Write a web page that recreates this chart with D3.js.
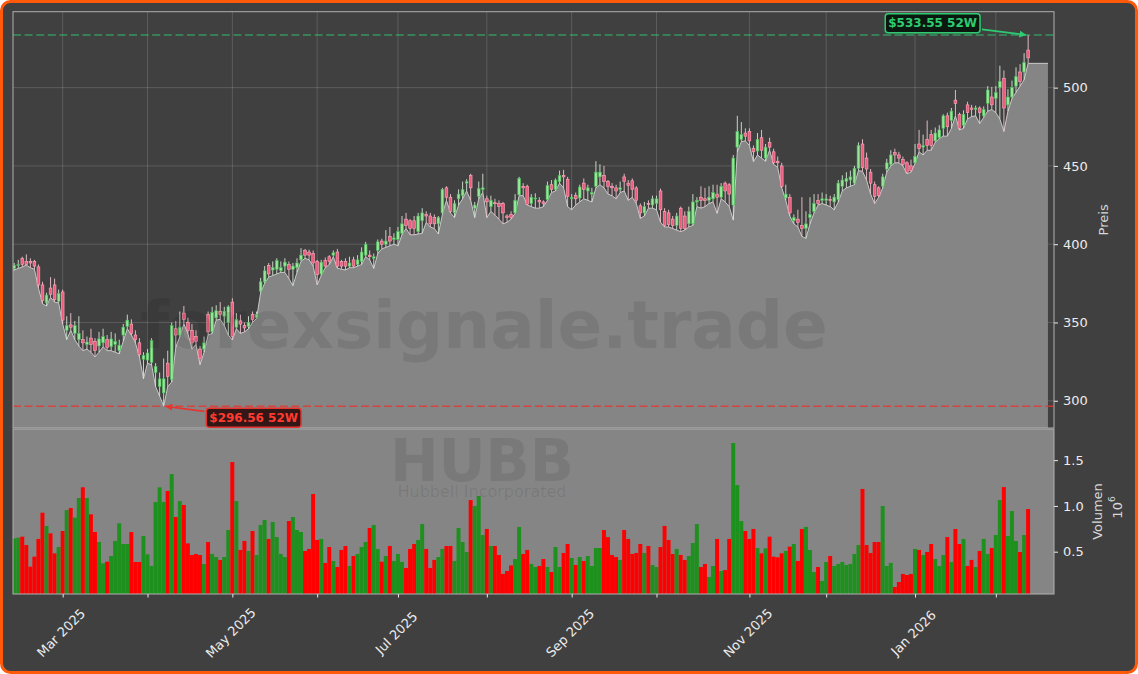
<!DOCTYPE html>
<html><head><meta charset="utf-8">
<script src="https://cdn.jsdelivr.net/npm/d3@7"></script>
<style>body{margin:0;background:#fff}svg{display:block}</style>
</head><body><svg id="c" width="1138" height="674"></svg>
<script>
// ---------------- DATA ----------------
const ticker = "HUBB";
const companyName = "Hubbell Incorporated";
const watermarkText = "forexsignale.trade";
const startDate = "2025-02-12";
const endDate = "2026-02-12";
const holidays = ["2025-02-17","2025-04-18","2025-05-26","2025-06-19","2025-07-04","2025-09-01","2025-11-27","2025-12-25","2026-01-01","2026-01-19"];
const monthNames = ["Jan","Feb","Mar","Apr","May","Jun","Jul","Aug","Sep","Oct","Nov","Dec"];

const openP = [384.5,386.5,391,389,389,389,385.5,374,362.5,372,374,363.5,369.5,345,348.5,343,339,339,336,340,
338,335,337,339,334.5,336,332,342,347.5,349,342,337,326.5,326,324.5,318,309,305,324,313.5,
346,342,356,350,345,341,333,333,355,344,353,357,354,350,363,347,351,348,347.5,355,
353,370,376,386.5,383.5,384,383,386,387,384,385,390,396,395,394,389,381,389.5,392,393,
395,389,389,386,390,387,389,393,393,391,396,402,400,405,403,403,407,416,415,415,
408,415,419,418,417,413,420,436,430,420,429,431,439,444,423,430.5,435,429,424,426.5,
426,426,418,419,420,431.5,437,437,426,429,428,427,428.5,438,435,440,444,441.5,429,431,
429.5,439,434,432,437,443,444,440,437,436,435,443,439,440.5,436,424.5,420,426,425,426,
434,421,420,416,412,423,418,413,413,427,430,429,428,429,432,430,439,438,425,462,
467,471,472,461,459.5,468,455,465,459,453,450,429.5,430,415,416,412,410,417,421,428,
428,428,428.5,427,428.5,437,440,441,439,448.5,464,455,446,438,436,437,448,451,458.5,457,
454,452,450,452,464,462,467,470,466,468,474,482,479,492,483,476,489,487,486,487,
482,490,494,493,500,506,489,494,501,510,510,524];

const highP = [388,390,392,393.5,391,390,387,376,369,379,378,371,371,354,356,351,354,345,341,346,
340,344,346,342,344,343,339,349,355,352,345,340,331,333,340,324,318,327,332,350,
351,357,360.5,353,349,345,335,341,357,360,361,363,360,361,365.5,356,355,350,354,357,
357,378.5,386,388,389,391,389,391,389,388,391,397.5,397,396.5,396,390,390,391.5,393,396,
397,390,391,392,392,393,398,401.5,396,394,403,403.5,409,411,407,411,418,420,416,418,
420,423,421,420,419,418,436,437,432,428,435,440,441.5,445,427,440,445,431,431,429,
428,427,419,421,432,443,439,438,432,432.5,430,428,440,441,442,447,447.5,443,432,433,
438,442,438,436,453,451,450,441,439,438,440,445,441,442,437,426,427,428,431,431,
435.5,423,422,418,420,424,421,424,432,430,437,436,437,438,438,439,440,439,457,482,
478,474,474,463,471,473,464,468,461,456,452,438,432,419,422,430,421,430,432,432,
433,432,431,432,441,444,446,447,450,465,467,458.5,448,440,437,445,454.5,460,461,459,
456,453,454,464,473,470,479,473,474.5,476,483,484,487,498.5,484,485.5,491,489,488.5,488,
488,501,500.5,501,514,511,499,504.5,513,515,522,533.55];

const lowP = [383.5,384.5,385.5,386.7,385,384,372,362,360.5,366,363,362.5,349,339,345,339,335,332,333,331,
328,331,334.5,332,332,331,330,338,346,342,337,328,314,324,323,309,303,296.56,309,312,
334,341,349,343,333,336,323,331,342,343,351.5,352,348,342,338.8,346,343,344,346,350,
352.6,369,375,379,380,381,382,382,378,373.5,382,389,391,390,386,374,380,385,387,392,
384.6,384,383.5,385,385,386,387,392,390,384.5,394,397,398,399,400,399,406,410,406,406,
406.5,407,414,411,410,406.5,419,428,420,417,425,429,434,428,417,429,433,417,421,418.6,
416,413,414,416,419.7,431,431,425,424,423,423,424,428,433,434,439,436,424,422,425,
427,429,428,427,436,438,436,432,431,429,433,434,428,430,426,416.5,418,423,423,422,
414,411,411,410,409,408,409,411,412,424,423,424,426,427,419.7,429,427,424,415.4,459,
465.5,466,463,452.7,457,455,453,460,451,449,436,428,418,413,411,405,403.7,413,420,425,
426,425,424,422,427,434,436,437,438,447,446.5,441,432,426,430,436,446,450,452,452,
450,445,446,451.5,459,457,460,460,465,467.5,469,469,474,482,472.9,474,480,481.5,482,477,
481,485,486,484,480,472,485,493,497,501,505,515.5];

const closeP = [386.5,387,387,387,388,386,374,364,367.5,368,364.5,368.5,351.5,348,347,348,343,337,337.5,336,
332,339.5,341,334,339.5,338,335.5,347,351.5,343,339,329.5,329,330.5,338.5,322,314,314,315.5,348,
342,347,352,345,337,338,327,337,344,356.5,357.5,355,357,360,341,352,349,346.5,350,352,
355,376,383,381,385,389.5,385,388.5,384,386,388,393,393,393,388,380.5,388.5,386,389,394.5,
386,386,386,388,386,390,395,400,392,392,401.5,400,402,402,404,408,413,412,410,410,
418,420,418,413,413,417,435,430,421,426,432,435,440,436,425,435.5,436,427,428,426,
424,420,417,417,428,442,436,425.5,430,429.5,427,426,437.5,435,441,444,443,430.5,430,429,
436.5,435,436,433,446,446,440,437,436,434,436,440,437.5,435,428,420,424,425.5,429,429,
422,412,412.5,412,418,410,410,421,427,428,428,428,430,433,430,437,434,432,455,472,
470,469,466,459,467,460,462,462,452,452,437,432,420,417,414,410,413,419,426,426,
429,429,428,430,439,441,442,443,448.5,463,449,448,439,430.5,431,443,452,457,457,455,
451,446,447,456,461,463,463,463,471,473,482,475,485,490,474,483,484,486,487,484,
486,498.5,489,497,504,487,494,500,507,504,516,519];

// volume in millions of shares
const volumeM = [0.646,0.653,0.664,0.573,0.337,0.446,0.639,0.926,0.781,0.700,0.482,0.551,0.726,0.955,0.977,0.872,1.086,1.203,1.086,0.908,
0.715,0.606,0.373,0.391,0.453,0.617,0.810,0.584,0.584,0.715,0.388,0.388,0.671,0.471,0.344,1.043,1.203,1.043,1.163,1.348,
0.879,1.053,1.010,0.591,0.464,0.475,0.464,0.366,0.606,0.475,0.442,0.410,0.442,0.737,1.479,1.053,0.519,0.617,0.508,0.726,
0.464,0.792,0.846,0.639,0.824,0.660,0.475,0.442,0.835,0.879,0.737,0.715,0.508,0.530,1.130,0.628,0.639,0.377,0.551,0.398,
0.333,0.519,0.562,0.344,0.453,0.475,0.551,0.606,0.759,0.792,0.530,0.391,0.453,0.562,0.398,0.475,0.388,0.322,0.530,0.584,
0.628,0.802,0.530,0.322,0.410,0.442,0.530,0.562,0.562,0.398,0.759,0.606,0.497,1.064,0.999,1.108,0.682,0.748,0.562,0.562,
0.464,0.257,0.289,0.350,0.420,0.770,0.475,0.519,0.366,0.333,0.344,0.420,0.333,0.278,0.551,0.333,0.486,0.584,0.431,0.355,
0.442,0.398,0.453,0.344,0.540,0.540,0.737,0.660,0.464,0.442,0.410,0.737,0.639,0.475,0.486,0.584,0.486,0.562,0.355,0.333,
0.551,0.781,0.628,0.475,0.530,0.464,0.410,0.453,0.595,0.802,0.333,0.366,0.224,0.344,0.639,0.289,0.300,0.639,1.687,1.228,
0.835,0.726,0.639,0.748,0.540,0.482,0.537,0.664,0.446,0.439,0.482,0.508,0.555,0.584,0.398,0.748,0.770,0.519,0.278,0.333,
0.180,0.388,0.453,0.344,0.366,0.388,0.355,0.366,0.475,0.573,1.185,0.573,0.486,0.606,0.606,0.999,0.344,0.377,0.115,0.169,
0.257,0.246,0.257,0.530,0.519,0.464,0.497,0.584,0.420,0.344,0.464,0.660,0.388,0.748,0.584,0.639,0.344,0.410,0.333,0.508,
0.639,0.475,0.540,0.682,1.064,1.206,0.671,0.944,0.617,0.497,0.682,0.966];

const priceTicks = [300, 350, 400, 450, 500];
const volumeTicks = [0.5, 1.0, 1.5];
const high52 = 533.55;
const low52 = 296.56;

// ---------------- LAYOUT ----------------
const FONT = '"DejaVu Sans", Verdana, sans-serif';
const L = 13, R = 1054, PT = 11.7, PB = 428, VT = 429, VB = 594;
const BG = "#404040", FILLGRAY = "#858585";

function tradingDays(s, e, hol) {
  const out = [], set = new Set(hol);
  const d = new Date(s + "T00:00:00Z"), end = new Date(e + "T00:00:00Z");
  while (d <= end) {
    const wd = d.getUTCDay(), iso = d.toISOString().slice(0, 10);
    if (wd !== 0 && wd !== 6 && !set.has(iso)) out.push(new Date(d));
    d.setUTCDate(d.getUTCDate() + 1);
  }
  return out;
}
const dates = tradingDays(startDate, endDate, holidays);
const n = closeP.length;
const data = d3.range(n).map(i => ({i, o: openP[i], h: highP[i], l: lowP[i], c: closeP[i], v: volumeM[i], up: closeP[i] >= openP[i]}));

const svg = d3.select("#c");
svg.append("rect").attr("x", 1.5).attr("y", 1.5).attr("width", 1135).attr("height", 671)
  .attr("rx", 9).attr("fill", BG).attr("stroke", "#ff5a0a").attr("stroke-width", 3);

const x = d3.scaleLinear().domain([-0.3, n + 5.4]).range([L, R]);
const yP = d3.scaleLinear().domain([282.6, 548.5]).range([PB, PT]);
const yV = d3.scaleLinear().domain([0.038, 1.84]).range([VB, VT]);
const step = x(1) - x(0);

const defs = svg.append("defs");
defs.append("clipPath").attr("id", "cp").append("rect").attr("x", L).attr("y", PT).attr("width", R - L).attr("height", PB - PT);
defs.append("clipPath").attr("id", "cv").append("rect").attr("x", L).attr("y", VT).attr("width", R - L).attr("height", VB - VT);
function marker(id, col) {
  defs.append("marker").attr("id", id).attr("viewBox", "0 0 10 10").attr("refX", 9).attr("refY", 5)
    .attr("markerWidth", 7).attr("markerHeight", 7).attr("orient", "auto-start-reverse").attr("markerUnits", "userSpaceOnUse")
    .append("path").attr("d", "M0,0 L10,5 L0,10 z").attr("fill", col);
}
marker("ag", "#2ecc71");
marker("ar", "#e8342e");

// month ticks
const monthIdx = [];
for (let i = 1; i < dates.length && i < n; i++) if (dates[i].getUTCMonth() !== dates[i - 1].getUTCMonth()) monthIdx.push(i);

// ---------------- PRICE PANEL ----------------
const gp = svg.append("g").attr("clip-path", "url(#cp)");
gp.selectAll("line.gy").data(priceTicks).join("line")
  .attr("x1", L).attr("x2", R).attr("y1", d => yP(d)).attr("y2", d => yP(d))
  .attr("stroke", "#ffffff").attr("stroke-opacity", 0.17).attr("stroke-width", 0.9);
gp.selectAll("line.gx").data(monthIdx).join("line")
  .attr("x1", d => x(d)).attr("x2", d => x(d)).attr("y1", PT).attr("y2", PB)
  .attr("stroke", "#ffffff").attr("stroke-opacity", 0.17).attr("stroke-width", 0.9);

const areaPts = [{i: -0.3, v: lowP[0]}].concat(data.map(d => ({i: d.i, v: d.l}))).concat([{i: n + 3.9, v: lowP[n - 1]}]);
gp.append("path").datum(areaPts)
  .attr("d", d3.area().x(d => x(d.i)).y0(PB).y1(d => yP(d.v)))
  .attr("fill", FILLGRAY);
gp.append("path").datum(areaPts)
  .attr("d", d3.line().x(d => x(d.i)).y(d => yP(d.v)))
  .attr("fill", "none").attr("stroke", "#c9c9c9").attr("stroke-width", 1);

// watermark
svg.append("text").attr("x", 484).attr("y", 348).attr("text-anchor", "middle")
  .attr("font-family", FONT).attr("font-weight", "bold").attr("font-size", 66)
  .attr("fill", "#000").attr("fill-opacity", 0.09).text(watermarkText);

// reference lines
gp.append("line").attr("x1", L).attr("x2", R).attr("y1", yP(high52)).attr("y2", yP(high52))
  .attr("stroke", "#2ecc71").attr("stroke-opacity", 0.6).attr("stroke-width", 1.5).attr("stroke-dasharray", "8,3.6");
gp.append("line").attr("x1", L).attr("x2", R).attr("y1", yP(low52)).attr("y2", yP(low52))
  .attr("stroke", "#e8342e").attr("stroke-opacity", 0.8).attr("stroke-width", 1.5).attr("stroke-dasharray", "8,3.6");

// candles
const bw = step * 0.68;
const cg = gp.append("g");
cg.selectAll("line.w").data(data).join("line")
  .attr("x1", d => x(d.i)).attr("x2", d => x(d.i)).attr("y1", d => yP(d.h)).attr("y2", d => yP(d.l))
  .attr("stroke", d => d.up ? "#d4e6d4" : "#efc6d0").attr("stroke-width", 0.9);
cg.selectAll("rect.b").data(data).join("rect")
  .attr("x", d => x(d.i) - bw / 2).attr("width", bw)
  .attr("y", d => yP(Math.max(d.o, d.c)))
  .attr("height", d => Math.max(1, Math.abs(yP(d.o) - yP(d.c))))
  .attr("fill", d => d.up ? "#9be59b" : "#ec5c7e")
  .attr("stroke", d => d.up ? "#45b955" : "#ffaabd").attr("stroke-width", 0.6);

// price spines
svg.append("rect").attr("x", L).attr("y", PT).attr("width", R - L).attr("height", PB - PT)
  .attr("fill", "none").attr("stroke", "#b0b0b0").attr("stroke-width", 1);

// price axis
const axP = svg.append("g").attr("transform", `translate(${R},0)`)
  .call(d3.axisRight(yP).tickValues(priceTicks).tickSize(4).tickPadding(5).tickFormat(d3.format("d")));
axP.select(".domain").remove();
axP.selectAll("line").attr("stroke", "#e8e8e8");
axP.selectAll("text").attr("fill", "#ececec").attr("font-family", FONT).attr("font-size", 13);
svg.append("text").attr("transform", `translate(1103,${(PT + PB) / 2}) rotate(-90)`)
  .attr("text-anchor", "middle").attr("dominant-baseline", "central")
  .attr("font-family", FONT).attr("font-size", 13).attr("fill", "#d8d8d8").text("Preis");

// ---------------- VOLUME PANEL ----------------
svg.append("rect").attr("x", L).attr("y", VT).attr("width", R - L).attr("height", VB - VT).attr("fill", FILLGRAY);
const gv = svg.append("g").attr("clip-path", "url(#cv)");
gv.selectAll("rect").data(data).join("rect")
  .attr("x", d => x(d.i) - step / 2).attr("width", step * 0.98)
  .attr("y", d => yV(d.v)).attr("height", d => VB - yV(d.v))
  .attr("fill", d => d.up ? "#1e901e" : "#ff0000");
svg.append("text").attr("x", 482).attr("y", 481).attr("text-anchor", "middle")
  .attr("font-family", FONT).attr("font-weight", "bold").attr("font-size", 58)
  .attr("fill", "#000").attr("fill-opacity", 0.09).text(ticker);
svg.append("text").attr("x", 482).attr("y", 497).attr("text-anchor", "middle")
  .attr("font-family", FONT).attr("font-size", 16)
  .attr("fill", "#000").attr("fill-opacity", 0.09).text(companyName);
svg.append("rect").attr("x", L).attr("y", VT).attr("width", R - L).attr("height", VB - VT)
  .attr("fill", "none").attr("stroke", "#b0b0b0").attr("stroke-width", 1);

const axV = svg.append("g").attr("transform", `translate(${R},0)`)
  .call(d3.axisRight(yV).tickValues(volumeTicks).tickSize(4).tickPadding(5).tickFormat(d3.format(".1f")));
axV.select(".domain").remove();
axV.selectAll("line").attr("stroke", "#e8e8e8");
axV.selectAll("text").attr("fill", "#ececec").attr("font-family", FONT).attr("font-size", 13);
svg.append("text").attr("transform", `translate(1097,${(VT + VB) / 2}) rotate(-90)`)
  .attr("text-anchor", "middle").attr("dominant-baseline", "central")
  .attr("font-family", FONT).attr("font-size", 13).attr("fill", "#d8d8d8").text("Volumen");
const off = svg.append("text").attr("transform", `translate(1117,${(VT + VB) / 2 - 4}) rotate(-90)`)
  .attr("text-anchor", "middle").attr("dominant-baseline", "central")
  .attr("font-family", FONT).attr("font-size", 13).attr("fill", "#d8d8d8");
off.append("tspan").text("10");
off.append("tspan").attr("dy", -5).attr("font-size", 9).text("6");

// ---------------- X AXIS ----------------
const axX = svg.append("g").attr("transform", `translate(0,${VB})`)
  .call(d3.axisBottom(x).tickValues(monthIdx).tickSize(3.5).tickFormat(() => ""));
axX.select(".domain").remove();
axX.selectAll("line").attr("stroke", "#e8e8e8");
const lab = svg.append("g");
monthIdx.forEach((idx, k) => {
  if (k % 2 !== 0) return;
  const dt = dates[idx];
  lab.append("text")
    .attr("transform", `translate(${x(idx) - 1.5},${VB + 39}) rotate(-45)`)
    .attr("text-anchor", "middle").attr("dominant-baseline", "central")
    .attr("font-family", FONT).attr("font-size", 13).attr("fill", "#ececec")
    .text(monthNames[dt.getUTCMonth()] + " " + dt.getUTCFullYear());
});

// ---------------- ANNOTATIONS ----------------
function annotate(idx, val, dx, dy, label, col, bg, txtCol, mk) {
  const px = x(idx), py = yP(val);
  const cx = px + dx, cy = py + dy;
  const t = svg.append("text").attr("x", cx).attr("y", cy).attr("text-anchor", "middle").attr("dominant-baseline", "central")
    .attr("font-family", FONT).attr("font-weight", "bold").attr("font-size", 12).attr("fill", txtCol).text(label);
  const tw = t.node().getComputedTextLength();
  const bwid = tw + 6, bh = 19;
  const vx = px - cx, vy = py - cy;
  const tt = Math.min((bwid / 2) / Math.abs(vx || 1e-6), (bh / 2) / Math.abs(vy || 1e-6));
  const sx = cx + vx * tt * 1.04, sy = cy + vy * tt * 1.04;
  const len = Math.hypot(vx, vy);
  const ex = px - vx / len * 2.5, ey = py - vy / len * 2.5;
  svg.append("line").attr("x1", sx).attr("y1", sy).attr("x2", ex).attr("y2", ey)
    .attr("stroke", col).attr("stroke-width", 1.6).attr("marker-end", `url(#${mk})`);
  svg.insert("rect", () => t.node()).attr("x", cx - bwid / 2).attr("y", cy - bh / 2).attr("width", bwid).attr("height", bh)
    .attr("rx", 3).attr("fill", bg).attr("fill-opacity", 0.9).attr("stroke", col).attr("stroke-width", 1.5);
}
const hiIdx = highP.indexOf(high52), loIdx = lowP.indexOf(low52);
annotate(hiIdx, high52, -95.5, -11.8, "$" + high52.toFixed(2) + " 52W", "#2ecc71", "#06140a", "#2ecc71", "ag");
annotate(loIdx, low52, 90, 11.5, "$" + low52.toFixed(2) + " 52W", "#e8342e", "#2a0a0a", "#ff3b30", "ar");
</script>
</body></html>
